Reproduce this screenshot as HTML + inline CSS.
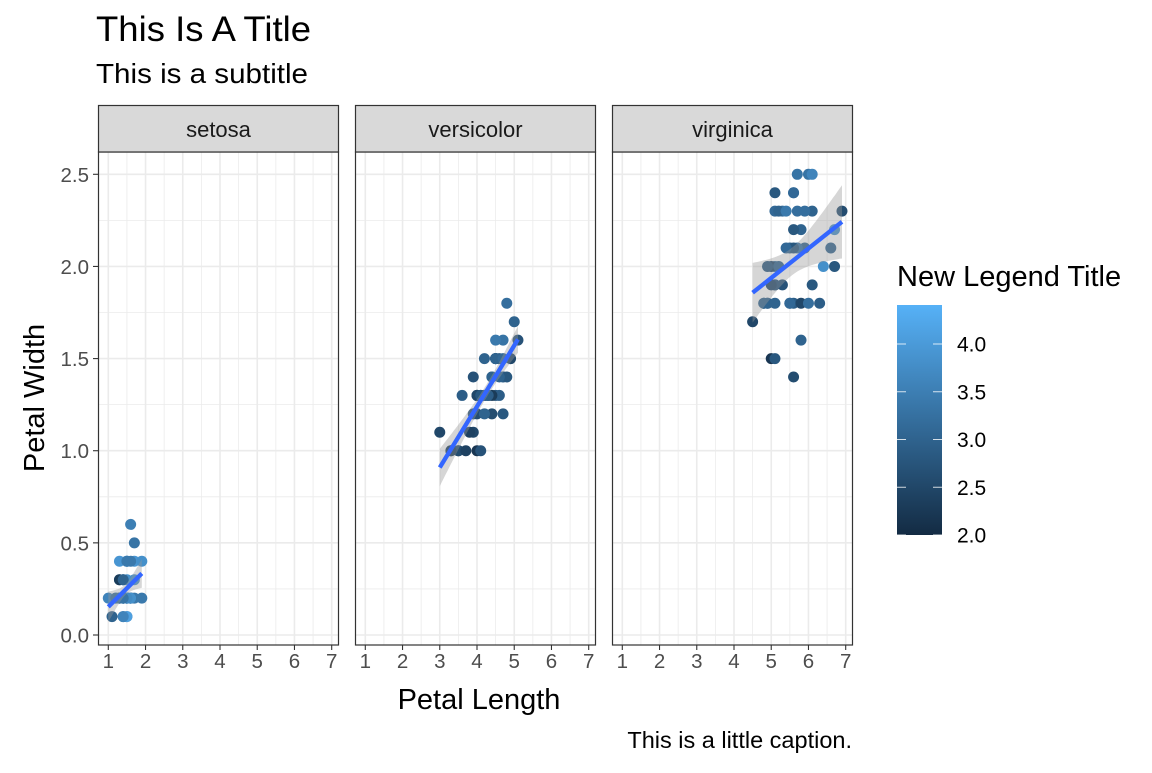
<!DOCTYPE html>
<html><head><meta charset="utf-8"><style>
html,body{margin:0;padding:0;background:#fff;}
svg text{font-family:"Liberation Sans",Arial,sans-serif;}
</style></head><body>
<svg id="s" width="1152" height="768" xmlns="http://www.w3.org/2000/svg">
<defs><linearGradient id="lg" x1="0" y1="1" x2="0" y2="0">
<stop offset="0" stop-color="#132B43"/><stop offset="1" stop-color="#56B1F7"/></linearGradient></defs>
<text x="96" y="41" font-size="35" fill="#000" textLength="215" lengthAdjust="spacingAndGlyphs">This Is A Title</text>
<text x="96" y="83" font-size="28" fill="#000" textLength="212" lengthAdjust="spacingAndGlyphs">This is a subtitle</text>
<text x="852" y="748" font-size="23.5" fill="#000" text-anchor="end">This is a little caption.</text>
<text x="479" y="709" font-size="29" fill="#000" text-anchor="middle">Petal Length</text>
<text transform="translate(44,398) rotate(-90)" font-size="29" fill="#000" text-anchor="middle">Petal Width</text>
<text x="897" y="286" font-size="29" fill="#000">New Legend Title</text>
<rect x="897" y="305" width="45" height="230" fill="url(#lg)"/>
<g id="leg"></g>
<g id="plot"></g>
</svg>
<script>
(function(){
const D={setosa:[[3.5,1.4,0.2],[3.0,1.4,0.2],[3.2,1.3,0.2],[3.1,1.5,0.2],[3.6,1.4,0.2],[3.9,1.7,0.4],[3.4,1.4,0.3],[3.4,1.5,0.2],[2.9,1.4,0.2],[3.1,1.5,0.1],[3.7,1.5,0.2],[3.4,1.6,0.2],[3.0,1.4,0.1],[3.0,1.1,0.1],[4.0,1.2,0.2],[4.4,1.5,0.4],[3.9,1.3,0.4],[3.5,1.4,0.3],[3.8,1.7,0.3],[3.8,1.5,0.3],[3.4,1.7,0.2],[3.7,1.5,0.4],[3.6,1.0,0.2],[3.3,1.7,0.5],[3.4,1.9,0.2],[3.0,1.6,0.2],[3.4,1.6,0.4],[3.5,1.5,0.2],[3.4,1.4,0.2],[3.2,1.6,0.2],[3.1,1.6,0.2],[3.4,1.5,0.4],[4.1,1.5,0.1],[4.2,1.4,0.2],[3.1,1.5,0.2],[3.2,1.2,0.2],[3.5,1.3,0.2],[3.6,1.4,0.1],[3.0,1.3,0.2],[3.4,1.5,0.2],[3.5,1.3,0.3],[2.3,1.3,0.3],[3.2,1.3,0.2],[3.5,1.6,0.6],[3.8,1.9,0.4],[3.0,1.4,0.3],[3.8,1.6,0.2],[3.2,1.4,0.2],[3.7,1.5,0.2],[3.3,1.4,0.2]],
versicolor:[[3.2,4.7,1.4],[3.2,4.5,1.5],[3.1,4.9,1.5],[2.3,4.0,1.3],[2.8,4.6,1.5],[2.8,4.5,1.3],[3.3,4.7,1.6],[2.4,3.3,1.0],[2.9,4.6,1.3],[2.7,3.9,1.4],[2.0,3.5,1.0],[3.0,4.2,1.5],[2.2,4.0,1.0],[2.9,4.7,1.4],[2.9,3.6,1.3],[3.1,4.4,1.4],[3.0,4.5,1.5],[2.7,4.1,1.0],[2.2,4.5,1.5],[2.5,3.9,1.1],[3.2,4.8,1.8],[2.8,4.0,1.3],[2.5,4.9,1.5],[2.8,4.7,1.2],[2.9,4.3,1.3],[3.0,4.4,1.4],[2.8,4.8,1.4],[3.0,5.0,1.7],[2.9,4.5,1.5],[2.6,3.5,1.0],[2.4,3.8,1.1],[2.4,3.7,1.0],[2.7,3.9,1.2],[2.7,5.1,1.6],[3.0,4.5,1.5],[3.4,4.5,1.6],[3.1,4.7,1.5],[2.3,4.4,1.3],[3.0,4.1,1.3],[2.5,4.0,1.3],[2.6,4.4,1.2],[3.0,4.6,1.4],[2.6,4.0,1.2],[2.3,3.3,1.0],[2.7,4.2,1.3],[3.0,4.2,1.2],[2.9,4.2,1.3],[2.9,4.3,1.3],[2.5,3.0,1.1],[2.8,4.1,1.3]],
virginica:[[3.3,6.0,2.5],[2.7,5.1,1.9],[3.0,5.9,2.1],[2.9,5.6,1.8],[3.0,5.8,2.2],[3.0,6.6,2.1],[2.5,4.5,1.7],[2.9,6.3,1.8],[2.5,5.8,1.8],[3.6,6.1,2.5],[3.2,5.1,2.0],[2.7,5.3,1.9],[3.0,5.5,2.1],[2.5,5.0,2.0],[2.8,5.1,2.4],[3.2,5.3,2.3],[3.0,5.5,1.8],[3.8,6.7,2.2],[2.6,6.9,2.3],[2.2,5.0,1.5],[3.2,5.7,2.3],[2.8,4.9,2.0],[2.8,6.7,2.0],[2.7,4.9,1.8],[3.3,5.7,2.1],[3.2,6.0,1.8],[2.8,4.8,1.8],[3.0,4.9,1.8],[2.8,5.6,2.1],[3.0,5.8,1.6],[2.8,6.1,1.9],[3.8,6.4,2.0],[2.8,5.6,2.2],[2.8,5.1,1.5],[2.6,5.6,1.4],[3.0,6.1,2.3],[3.4,5.6,2.4],[3.1,5.5,1.8],[3.0,4.8,1.8],[3.1,5.4,2.1],[3.1,5.6,2.4],[3.1,5.1,2.3],[2.7,5.1,1.9],[3.2,5.9,2.3],[3.3,5.7,2.5],[3.0,5.2,2.3],[2.5,5.0,1.9],[3.0,5.2,2.0],[3.4,5.4,2.3],[3.0,5.1,1.8]]};
const NS="http://www.w3.org/2000/svg";
function el(p,t,a,txt){const e=document.createElementNS(NS,t);for(const k in a)e.setAttribute(k,a[k]);if(txt!=null)e.textContent=txt;p.appendChild(e);return e;}
function col(v){const t=(v-2)/2.4;const a=[0x13,0x2B,0x43],b=[0x56,0xB1,0xF7];return`rgb(${a.map((c,i)=>Math.round(c+(b[i]-c)*t)).join(',')})`;}
const P=document.getElementById('plot');
const panels=[["setosa",98],["versicolor",355],["virginica",612]];
const W=241, pTop=152, pBot=645;
const yv=v=>635-v*(635-174.3)/2.5;
panels.forEach(([name,x0],pi)=>{
  const xv=v=>x0+10.3+(v-1)*(223.4/6);
  const g=el(P,'g',{});
  el(g,'rect',{x:x0,y:pTop,width:W,height:pBot-pTop,fill:'#fff'});
  for(let v=0.25;v<2.8;v+=0.5) el(g,'line',{x1:x0,x2:x0+W,y1:yv(v),y2:yv(v),stroke:'#ebebeb','stroke-width':0.8});
  for(let v=0.5;v<7.3;v+=1){const x=xv(v);if(x>x0&&x<x0+W) el(g,'line',{y1:pTop,y2:pBot,x1:x,x2:x,stroke:'#ebebeb','stroke-width':0.8});}
  for(let v=0;v<=2.5;v+=0.5) el(g,'line',{x1:x0,x2:x0+W,y1:yv(v),y2:yv(v),stroke:'#ebebeb','stroke-width':1.6});
  for(let v=1;v<=7;v++) el(g,'line',{y1:pTop,y2:pBot,x1:xv(v),x2:xv(v),stroke:'#ebebeb','stroke-width':1.6});
  const d=D[name];
  d.forEach(p=>el(g,'circle',{cx:xv(p[1]),cy:yv(p[2]),r:5.5,fill:col(p[0])}));
  const n=d.length;let mx=0,my=0;d.forEach(p=>{mx+=p[1];my+=p[2]});mx/=n;my/=n;
  let sxx=0,sxy=0;d.forEach(p=>{sxx+=(p[1]-mx)**2;sxy+=(p[1]-mx)*(p[2]-my)});
  const b=sxy/sxx,a=my-b*mx;let sse=0;d.forEach(p=>sse+=(p[2]-a-b*p[1])**2);
  const s=Math.sqrt(sse/(n-2)),t=2.01;
  const xs=d.map(p=>p[1]),lo=Math.min(...xs),hi=Math.max(...xs);
  const up=[],dn=[];
  for(let i=0;i<=40;i++){const x=lo+(hi-lo)*i/40;const f=a+b*x;const se=s*Math.sqrt(1/n+(x-mx)**2/sxx);
    up.push(xv(x).toFixed(1)+','+yv(f+t*se).toFixed(1));dn.unshift(xv(x).toFixed(1)+','+yv(f-t*se).toFixed(1));}
  el(g,'polygon',{points:up.concat(dn).join(' '),fill:'#999','fill-opacity':0.4});
  el(g,'line',{x1:xv(lo),y1:yv(a+b*lo),x2:xv(hi),y2:yv(a+b*hi),stroke:'#3366FF','stroke-width':4.3});
  el(g,'rect',{x:x0+0.5,y:pTop,width:W-1,height:pBot-pTop,fill:'none',stroke:'#333','stroke-width':1.2});
  el(g,'rect',{x:x0+0.5,y:105.5,width:W-1,height:pTop-105.5,fill:'#d9d9d9',stroke:'#333','stroke-width':1.2});
  el(g,'text',{x:x0+W/2,y:137,'font-size':22,fill:'#1a1a1a','text-anchor':'middle'},name);
  for(let v=1;v<=7;v++){el(g,'line',{x1:xv(v),x2:xv(v),y1:pBot,y2:pBot+5,stroke:'#333','stroke-width':1.1});
    el(g,'text',{x:xv(v),y:pBot+23,'font-size':20.5,fill:'#4d4d4d','text-anchor':'middle'},v);}
  if(pi==0){for(let v=0;v<=2.5;v+=0.5){el(g,'line',{x1:x0-5,x2:x0,y1:yv(v),y2:yv(v),stroke:'#333','stroke-width':1.1});
    el(g,'text',{x:x0-9,y:yv(v)+7.5,'font-size':20.5,fill:'#4d4d4d','text-anchor':'end'},v.toFixed(1));}}
});
const L=document.getElementById('leg');
[2,2.5,3,3.5,4].forEach(v=>{const y=535-(v-2)/0.5*47.75;
 el(L,'line',{x1:897,x2:906,y1:y,y2:y,stroke:'#fff','stroke-opacity':0.8,'stroke-width':1});
 el(L,'line',{x1:933,x2:942,y1:y,y2:y,stroke:'#fff','stroke-opacity':0.8,'stroke-width':1});
 el(L,'text',{x:957,y:y+7.5,'font-size':21,fill:'#000'},v.toFixed(1));});
})();
</script>
</body></html>
